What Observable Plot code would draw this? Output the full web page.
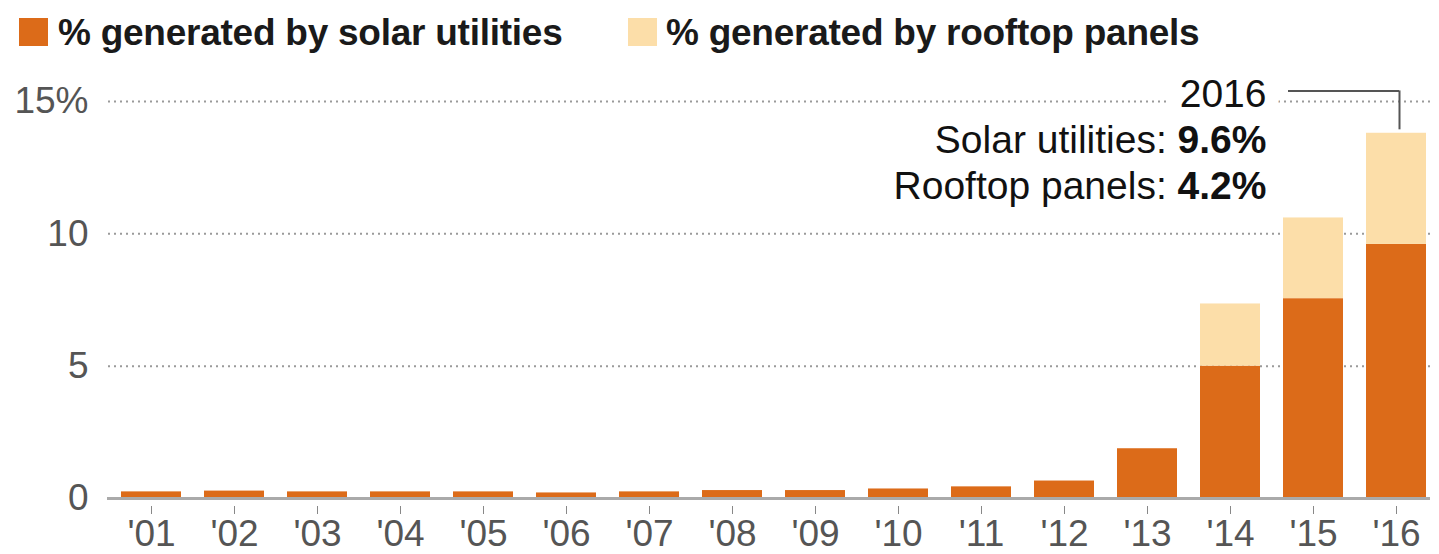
<!DOCTYPE html>
<html>
<head>
<meta charset="utf-8">
<script src="https://cdn.jsdelivr.net/npm/d3@7"></script>
<script src="https://cdn.jsdelivr.net/npm/@observablehq/plot@0.6"></script>
<style>
  body { margin: 0; background: #fff; font-family: "Liberation Sans", Arial, sans-serif; }
  #legend { position: relative; height: 62px; width: 1439px; }
  .sw { position: absolute; top: 18px; width: 29px; height: 28px; }
  .lt { position: absolute; top: 14px; font-size: 37px; line-height: 37px; font-weight: bold; color: #1a1a1a; white-space: nowrap; letter-spacing: -0.25px; }
</style>
</head>
<body>
<div id="legend"></div>
<div id="chart"></div>
<script>
// ---- data ----
const years = ["'01","'02","'03","'04","'05","'06","'07","'08","'09","'10","'11","'12","'13","'14","'15","'16"];
const utilities = [0.25, 0.28, 0.25, 0.25, 0.25, 0.21, 0.25, 0.3, 0.3, 0.36, 0.44, 0.66, 1.88, 5.0, 7.55, 9.6];
const rooftop   = [0, 0, 0, 0, 0, 0, 0, 0, 0, 0, 0, 0, 0, 2.35, 3.05, 4.2];
const seriesNames = ["% generated by solar utilities", "% generated by rooftop panels"];
const seriesColors = ["#dc6b19", "#fcdea9"];
const yTicks = [0, 5, 10, 15];
const annotationYear = "2016";
const annotationLabels = ["Solar utilities", "Rooftop panels"];
const leaderLevel = 15.4;

// ---- legend ----
const legend = document.getElementById("legend");
const swLeft = [19, 628], txtLeft = [58, 666];
seriesNames.forEach((name, i) => {
  const s = document.createElement("div");
  s.className = "sw"; s.style.left = swLeft[i] + "px"; s.style.background = seriesColors[i];
  legend.appendChild(s);
  const t = document.createElement("div");
  t.className = "lt"; t.style.left = txtLeft[i] + "px"; t.textContent = name;
  legend.appendChild(t);
});

// ---- table ----
const data = [];
years.forEach((y, i) => {
  data.push({year: y, type: seriesNames[0], value: utilities[i]});
  data.push({year: y, type: seriesNames[1], value: rooftop[i]});
});
const last = years.length - 1;
const total = utilities[last] + rooftop[last];
const annotationText = `${annotationYear}\n${annotationLabels[0]}: ${utilities[last]}%\n${annotationLabels[1]}: ${rooftop[last]}%`;

const chart = Plot.plot({
  width: 1439, height: 492,
  marginLeft: 108, marginRight: 0, marginTop: 39, marginBottom: 56,
  style: {fontFamily: '"Liberation Sans", Arial, sans-serif', background: "#fff", overflow: "visible"},
  x: {domain: years, paddingInner: 0.28, paddingOuter: 0.14, axis: null},
  y: {domain: [0, 15], axis: null},
  color: {domain: seriesNames, range: seriesColors},
  marks: [
    Plot.ruleY(yTicks.filter(d => d > 0), {stroke: "#9a9a9a", strokeWidth: 2, strokeDasharray: "2,4", insetRight: 9}),
    Plot.barY(data, {x: "year", y: "value", fill: "type"}),
    Plot.ruleY([0], {stroke: "#aaa", strokeWidth: 3, insetLeft: -1, insetRight: 9}),
    Plot.axisY(yTicks, {tickSize: 0, tickPadding: 20, fontSize: 37, fill: "#555", label: null, tickFormat: d => d === 15 ? "15%" : String(d)}),
    Plot.axisX({tickSize: 8, dy: 8, tickPadding: 5, fontSize: 37, fill: "#555", stroke: "#888", label: null}),
    Plot.text([annotationText], {
      frameAnchor: "top-right", dx: -173, dy: -27, textAnchor: "end", lineAnchor: "top",
      lineHeight: 1.18, fontSize: 39, fill: "#111", stroke: "white", strokeWidth: 28
    }),
    Plot.ruleY([leaderLevel], {x1: () => years[last - 1], x2: () => years[last], insetLeft: 5, insetRight: 27, stroke: "#555", strokeWidth: 2}),
    Plot.ruleX([years[last]], {y1: total + 0.13, y2: leaderLevel, dx: 3, stroke: "#555", strokeWidth: 2})
  ]
});

// bold values in the annotation
d3.select(chart).selectAll("tspan").each(function () {
  const txt = this.textContent;
  const k = txt.indexOf(": ");
  if (k < 0) return;
  this.textContent = txt.slice(0, k + 2);
  const b = document.createElementNS("http://www.w3.org/2000/svg", "tspan");
  b.setAttribute("font-weight", "bold");
  b.textContent = txt.slice(k + 2);
  this.appendChild(b);
});

document.getElementById("chart").appendChild(chart);
</script>
</body>
</html>
